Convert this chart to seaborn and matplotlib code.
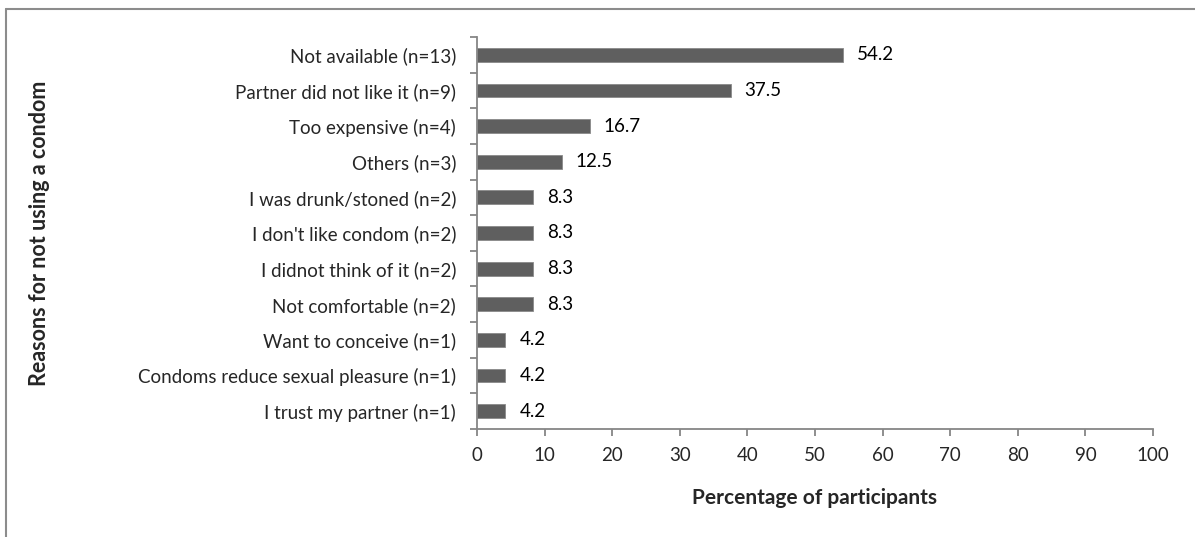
import pandas as pd
import seaborn as sns
import matplotlib.pyplot as plt
from matplotlib.lines import Line2D
import numpy as np

# Daten
reasons = [
    'Not available (n=13)',
    'Partner did not like it (n=9)',
    'Too expensive (n=4)',
    'Others (n=3)',
    'I was drunk/stoned (n=2)',
    "I don't like condom (n=2)",
    'I didnot think of it (n=2)',
    'Not comfortable (n=2)',
    'Want to conceive (n=1)',
    'Condoms reduce sexual pleasure (n=1)',
    'I trust my partner (n=1)',
]
percentages = [54.2, 37.5, 16.7, 12.5, 8.3, 8.3, 8.3, 8.3, 4.2, 4.2, 4.2]
x_ticks = [0, 10, 20, 30, 40, 50, 60, 70, 80, 90, 100]

df = pd.DataFrame({'Reason': reasons, 'Percentage': percentages})

sns.set_style('white')
plt.rcParams['font.family'] = ['Lato', 'DejaVu Sans']

spine_color = '#868686'
bar_color = '#5f5f5f'
fs = 13.5

fig = plt.figure(figsize=(11.95, 5.37), dpi=100)
ax = fig.add_axes([477 / 1195, 1 - 429 / 537, (1153 - 477) / 1195, (429 - 37) / 537])

sns.barplot(data=df, x='Percentage', y='Reason', orient='h', color=bar_color,
            width=0.39, saturation=1, ax=ax)
for p in ax.patches:
    p.set_edgecolor('#8a8a8a')
    p.set_linewidth(0.6)

ax.bar_label(ax.containers[0], labels=[f'{v:.1f}' for v in percentages],
             padding=10, fontsize=fs, color='black')

ax.set_xlim(0, 100)
ax.set_ylim(len(reasons) - 0.5, -0.5)
ax.set_xticks(x_ticks)
ax.set_xticklabels([str(t) for t in x_ticks], fontsize=fs)
ax.set_yticks(range(len(reasons)))
ax.set_yticklabels(reasons, fontsize=fs)
ax.set_yticks(np.arange(-0.5, len(reasons), 1), minor=True)

ax.tick_params(axis='y', which='major', length=0, pad=15)
ax.tick_params(axis='y', which='minor', length=5, color=spine_color, width=1.3, direction='out', left=True)
ax.tick_params(axis='x', which='major', length=5, color=spine_color, width=1.3, direction='out', bottom=True, pad=8)

for side in ['top', 'right']:
    ax.spines[side].set_visible(False)
for side in ['left', 'bottom']:
    ax.spines[side].set_color(spine_color)
    ax.spines[side].set_linewidth(1.3)

ax.set_xlabel('Percentage of participants', fontsize=15, fontweight='bold', labelpad=17)
ax.set_ylabel('')
fig.text(40 / 1195, 1 - 233 / 537, 'Reasons for not using a condom', rotation=90,
         fontsize=15.5, fontweight='bold', ha='center', va='center')

# Rahmen wie im Original (links und oben)
xl = 5.5 / 1195
yt = 1 - 8.5 / 537
fig.add_artist(Line2D([xl, xl], [0, yt], color='#8c8c8c', linewidth=1.5, transform=fig.transFigure))
fig.add_artist(Line2D([xl, 1], [yt, yt], color='#8c8c8c', linewidth=1.5, transform=fig.transFigure))

plt.savefig('out.png', dpi=100)
